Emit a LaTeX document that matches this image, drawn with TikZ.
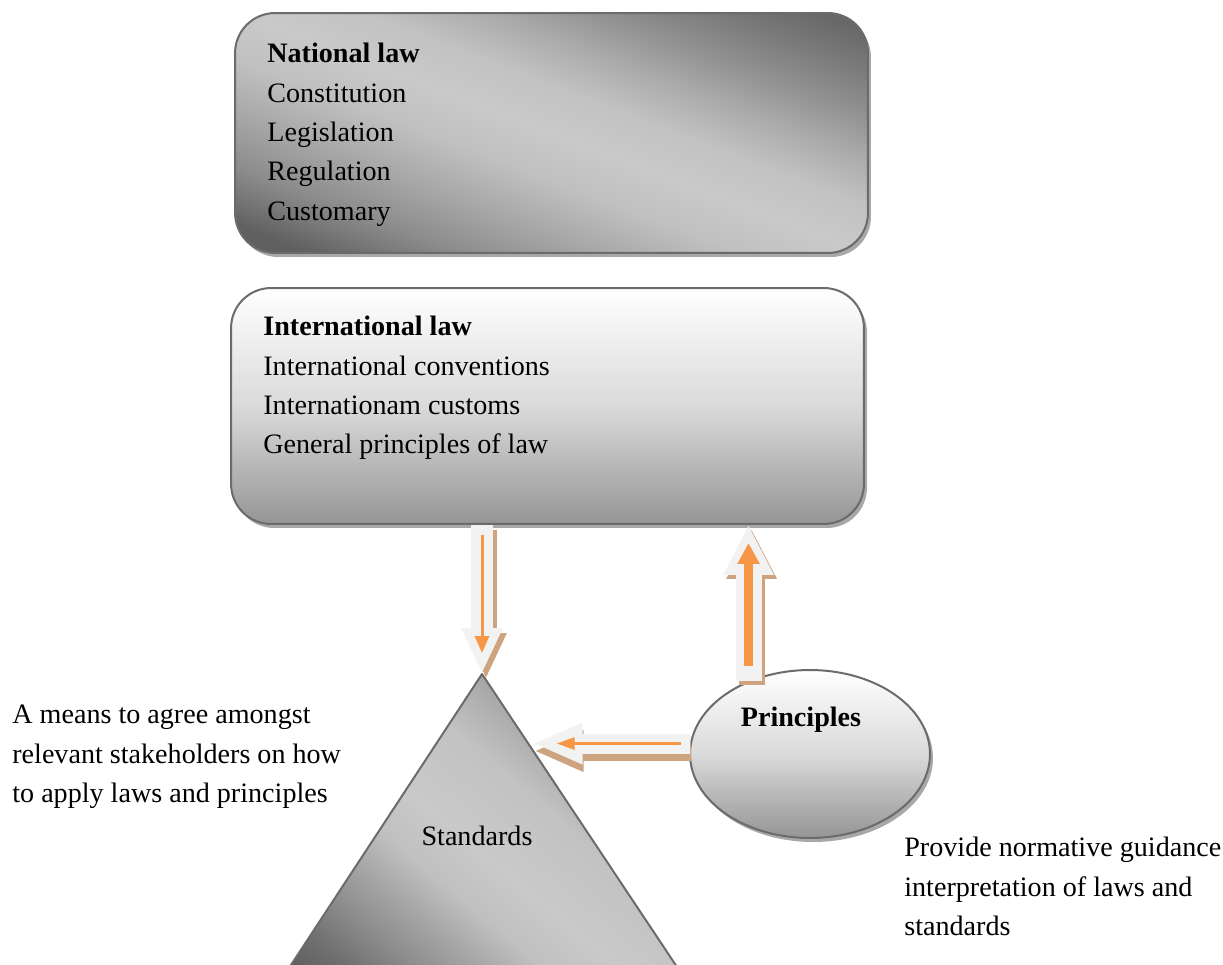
\documentclass[tikz,border=0pt]{standalone}
\usepackage{fontspec}
\usepackage{graphicx}
\setmainfont{Liberation Serif}
\usetikzlibrary{arrows.meta,shapes.geometric,shadows,calc}
\definecolor{edgegray}{HTML}{6B6B6B}
\definecolor{gmid}{HTML}{DADADA}
\definecolor{gbot}{HTML}{959595}
\definecolor{shadowgray}{HTML}{A8A8A8}
\definecolor{arrfill}{HTML}{F2F2F2}
\definecolor{arrtan}{HTML}{CDA47F}
\definecolor{arrorange}{HTML}{F79646}
\definecolor{g60}{HTML}{606060}
\definecolor{g68}{HTML}{686868}
\definecolor{g70}{HTML}{707070}
\definecolor{g77}{HTML}{777777}
\definecolor{g7a}{HTML}{7A7A7A}
\definecolor{g8c}{HTML}{8C8C8C}
\definecolor{g93}{HTML}{939393}
\definecolor{g99}{HTML}{999999}
\definecolor{ga5}{HTML}{A5A5A5}
\definecolor{gaa}{HTML}{AAAAAA}
\definecolor{gc0}{HTML}{C0C0C0}
\definecolor{gc2}{HTML}{C2C2C2}
\definecolor{gc9}{HTML}{C9C9C9}
\pgfdeclareverticalshading{natshade}{100bp}{color(0bp)=(g60); color(28bp)=(g60); color(31bp)=(g77); color(34bp)=(g8c); color(39bp)=(ga5); color(45bp)=(gc0); color(50bp)=(gc9); color(55bp)=(gc2); color(60bp)=(gaa); color(64bp)=(g93); color(69bp)=(g7a); color(73bp)=(g68); color(100bp)=(g68)}
\pgfdeclareverticalshading{stdshade}{100bp}{color(0bp)=(g60); color(25bp)=(g60); color(30bp)=(g70); color(36bp)=(g8c); color(42bp)=(ga5); color(48bp)=(gc0); color(55bp)=(gc9); color(66bp)=(gc2); color(75bp)=(ga5); color(100bp)=(ga5)}
\begin{document}
\begin{tikzpicture}[x=0.02cm,y=-0.02cm,
  txt/.style={font=\fontsize{16}{22.4}\selectfont, inner sep=0pt, align=left},
  lbl/.style={font=\fontsize{16}{22.4}\selectfont, inner sep=0pt},
  boxshadow/.style={drop shadow={shadow xshift=0.06cm, shadow yshift=-0.08cm, fill=shadowgray, opacity=1}},
  lawbox/.style={draw=edgegray, line width=0.04cm, rounded corners=0.8cm, minimum width=12.66cm, boxshadow},
  lightgrad/.style={top color=white, bottom color=gbot, middle color=gmid},
  arrbody/.style={draw=arrfill},
  arrshadow/.style={draw=arrtan},
  arrthin/.style={draw=arrorange},
]
\useasboundingbox (0,0) rectangle (1223,964);

% boxes
\node[lawbox, fill=white, minimum height=4.8cm, path picture={
    \node[inner sep=0pt] (natShading) at (path picture bounding box.center)
      {\rotatebox{-21}{\resizebox{17cm}{18.04cm}{\pgfuseshading{natshade}}}};
  }] (nat) at (551.5,133) {};
\node[lawbox, lightgrad, minimum height=4.72cm] (intl) at (547.5,406) {};
\node[ellipse, draw=edgegray, line width=0.04cm, minimum width=4.8cm, minimum height=3.36cm,
      lightgrad, boxshadow] (principles) at (810,754) {};

% triangle (Standards)
\coordinate (apex) at (482,674);
\coordinate (blc) at (268,1000);
\coordinate (brc) at (699,1000);
\coordinate (stdedge) at ($(apex)!0.215!(brc)$);
\begin{scope}
  \clip (0,0) rectangle (1223,964);
  \begin{scope}
    \clip (apex) -- (brc) -- (blc) -- cycle;
    \node[inner sep=0pt] (stdShading) at (459.4,879.5)
      {\rotatebox{-40}{\resizebox{14cm}{13.76cm}{\pgfuseshading{stdshade}}}};
  \end{scope}
  \draw[draw=edgegray, line width=0.04cm, line join=round] (apex) -- (brc) -- (blc) -- cycle;
\end{scope}

% texts
\node[txt, anchor=north west] (natText) at (267,43)
  {\textbf{National law}\\Constitution\\Legislation\\Regulation\\Customary};
\node[txt, anchor=north west] (intlText) at (263,316)
  {\textbf{International law}\\International conventions\\Internationam customs\\General principles of law};
\node[lbl] (stdText) at (477,836) {Standards};
\node[lbl, font=\fontsize{16}{22.4}\selectfont\bfseries] (prinText) at (801,720) {Principles};
\node[txt, anchor=north west] (leftText) at (12,705)
  {A means to agree amongst\\relevant stakeholders on how\\to apply laws and principles};
\node[txt, anchor=north west] (rightText) at (904,837)
  {Provide normative guidance\\interpretation of laws and\\standards};

% down arrow: international law -> standards
\draw[arrshadow, transform canvas={xshift=0.08cm, yshift=-0.1cm}, line width=0.44cm,
      -{Triangle[width=0.76cm,length=0.92cm]}] (intl.south -| apex) -- (apex);
\draw[arrbody, line width=0.44cm, -{Triangle[width=0.76cm,length=0.92cm]}]
  (intl.south -| apex) -- (apex);
\draw[arrthin, line width=0.06cm, shorten <=0.2cm, shorten >=0.42cm,
      -{Triangle[width=0.28cm,length=0.34cm]}] (intl.south -| apex) -- (apex);

% up arrow: principles -> international law
\draw[arrshadow, transform canvas={xshift=0.06cm, yshift=-0.08cm}, line width=0.52cm,
      -{Triangle[width=0.94cm,length=1.0cm]}] (principles.130) -- (principles.130 |- intl.south);
\draw[arrbody, line width=0.52cm, -{Triangle[width=0.94cm,length=1.0cm]}]
  (principles.130) -- (principles.130 |- intl.south);
\draw[arrthin, line width=0.18cm, shorten <=0.3cm, shorten >=0.36cm,
      -{Triangle[width=0.42cm,length=0.42cm]}] (principles.130) -- (principles.130 |- intl.south);

% left arrow: principles -> standards
\draw[arrshadow, transform canvas={xshift=0.02cm, yshift=-0.15cm}, line width=0.4cm, shorten >=0.08cm,
      -{Triangle[width=0.76cm,length=1.0cm]}] (principles.175) -- (principles.175 -| stdedge);
\draw[arrbody, line width=0.4cm, shorten >=0.08cm, -{Triangle[width=0.76cm,length=1.0cm]}]
  (principles.175) -- (principles.175 -| stdedge);
\draw[arrthin, line width=0.06cm, shorten <=0.18cm, shorten >=0.56cm,
      -{Triangle[width=0.24cm,length=0.36cm]}] (principles.175) -- (principles.175 -| stdedge);
\end{tikzpicture}
\end{document}
